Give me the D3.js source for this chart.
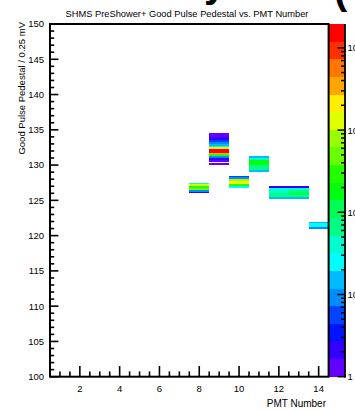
<!DOCTYPE html>
<html><head><meta charset="utf-8">
<script src="https://cdn.jsdelivr.net/npm/d3@7"></script>
<style>
html,body{margin:0;padding:0;background:#fff;overflow:hidden}
svg{display:block}
text{font-family:"Liberation Sans",Arial,Helvetica,sans-serif;fill:#000}
</style>
</head><body>
<svg id="c" width="355" height="412"></svg>
<script>
// ---------- data ----------
const title = "SHMS PreShower+ Good Pulse Pedestal vs. PMT Number";
const xTitle = "PMT Number";
const yTitle = "Good Pulse Pedestal / 0.25 mV";
const xDomain = [0.5, 14.5];
const yDomain = [100, 150];
const zDomain = [1, 19500];
const xTickValues = [2, 4, 6, 8, 10, 12, 14];
const yTickValues = [100, 105, 110, 115, 120, 125, 130, 135, 140, 145, 150];
const zTickValues = [1, 10, 100, 1000, 10000];
const zTickLabels = ["1", "10", "10^2", "10^3", "10^4"];
const binWidth = 0.25;
const nContours = 20;
const pmtNumbers = [8, 9, 10, 11, 12, 13, 14];
// [bin low edge (pedestal), entries]
const pmt8  = [[126.0,2],[126.25,10],[126.5,500],[126.75,250],[127.0,1100],[127.25,40]];
const pmt9  = [[130.0,1],[130.5,1],[130.75,2],[131.0,10],[131.25,300],[131.5,3500],[131.75,13000],
               [132.0,15000],[132.25,2000],[132.5,40],[132.75,15],[133.0,10],[133.25,5],
               [133.5,2],[133.75,2],[134.0,1],[134.25,1]];
const pmt10 = [[126.75,25],[127.0,300],[127.25,1200],[127.5,2000],[127.75,700],[128.0,10],[128.25,6]];
const pmt11 = [[129.0,15],[129.25,60],[129.5,80],[129.75,70],[130.0,220],[130.25,200],[130.5,160],[130.75,40],[131.0,15]];
const pmt12 = [[125.25,15],[125.5,55],[125.75,60],[126.0,45],[126.25,40],[126.5,45],[126.75,2]];
const pmt13 = [[125.25,15],[125.5,70],[125.75,100],[126.0,90],[126.25,60],[126.5,45],[126.75,2]];
const pmt14 = [[121.0,8],[121.25,20],[121.5,25],[121.75,15]];
const pmtBins = [pmt8, pmt9, pmt10, pmt11, pmt12, pmt13, pmt14];

// ---------- layout ----------
const svg = d3.select("#c");
const F = {l: 50, r: 328.6, t: 24, b: 376.7};
const P = {l: 329.2, r: 344.5};
const x = d3.scaleLinear().domain(xDomain).range([F.l, F.r]);
const y = d3.scaleLinear().domain(yDomain).range([F.b, F.t]);
const z = d3.scaleLog().domain(zDomain).range([F.b, F.t]);
const logMax = Math.log10(zDomain[1]);
const bandOf = c => Math.max(0, Math.min(nContours - 1, Math.floor(Math.log10(c) / (logMax / nContours))));
const bandColor = k => {
  const ci = Math.floor((k + 0.99) * 50 / nContours);
  return d3.hsl(280 - (ci + 1) * 5.6, 1, 0.5).formatHex();
};

// cells
const cells = [];
pmtNumbers.forEach((p, i) => pmtBins[i].forEach(([lo, c]) => { if (c > 0) cells.push({p, lo, c}); }));
svg.append("g").selectAll("rect").data(cells).join("rect")
  .attr("x", d => x(d.p - 0.5))
  .attr("width", d => x(d.p + 0.5) - x(d.p - 0.5))
  .attr("y", d => y(d.lo + binWidth))
  .attr("height", d => y(d.lo) - y(d.lo + binWidth))
  .attr("fill", d => bandColor(bandOf(d.c)))
  .attr("shape-rendering", "crispEdges");

// palette
const bands = d3.range(nContours);
svg.append("g").selectAll("rect").data(bands).join("rect")
  .attr("x", P.l).attr("width", P.r - P.l)
  .attr("y", k => z(Math.pow(10, (k + 1) * logMax / nContours)))
  .attr("height", k => z(Math.pow(10, k * logMax / nContours)) - z(Math.pow(10, (k + 1) * logMax / nContours)))
  .attr("fill", k => bandColor(k))
  .attr("shape-rendering", "crispEdges");

// palette axis
const zMinor = [];
[1, 10, 100, 1000, 10000].forEach(d => d3.range(2, 10).forEach(m => { if (d * m < zDomain[1]) zMinor.push(d * m); }));
const pal = svg.append("g");
pal.append("line").attr("x1", P.r + 0.5).attr("x2", P.r + 0.5).attr("y1", F.t).attr("y2", F.b + 1)
  .attr("stroke", "#000").attr("stroke-width", 1.8);
pal.selectAll("line.mn").data(zMinor).join("line").attr("class", "mn")
  .attr("x1", P.r).attr("x2", P.r - 3.5).attr("y1", d => z(d)).attr("y2", d => z(d))
  .attr("stroke", "#000").attr("stroke-width", 1.5);
pal.selectAll("line.mj").data(zTickValues).join("line").attr("class", "mj")
  .attr("x1", P.r).attr("x2", P.r - 7).attr("y1", d => z(d)).attr("y2", d => z(d))
  .attr("stroke", "#000").attr("stroke-width", 1.5);
const zt = pal.selectAll("text").data(zTickValues).join("text")
  .attr("x", 347.5).attr("y", d => z(d) + 3.5).attr("font-size", 9.5);
zt.each(function(d, i) {
  const parts = zTickLabels[i].split("^");
  const t = d3.select(this);
  t.append("tspan").text(parts[0]);
  if (parts[1]) t.append("tspan").attr("dy", -4).attr("font-size", 7).text(parts[1]);
});

// axes ticks (ROOT style, inside frame)
const ax = svg.append("g").attr("stroke", "#000").attr("stroke-width", 1.6);
const xMinor = d3.range(1, 14.5, 0.5).filter(v => !xTickValues.includes(v));
ax.selectAll("line.xm").data(xMinor).join("line").attr("class", "xm")
  .attr("x1", d => x(d)).attr("x2", d => x(d)).attr("y1", F.b).attr("y2", F.b - 5.3);
ax.selectAll("line.xM").data(xTickValues).join("line").attr("class", "xM")
  .attr("x1", d => x(d)).attr("x2", d => x(d)).attr("y1", F.b).attr("y2", F.b - 10.6);
const yMinor = d3.range(101, 150, 1).filter(v => !yTickValues.includes(v));
ax.selectAll("line.ym").data(yMinor).join("line").attr("class", "ym")
  .attr("x1", F.l).attr("x2", F.l + 4.2).attr("y1", d => y(d)).attr("y2", d => y(d));
ax.selectAll("line.yM").data(yTickValues).join("line").attr("class", "yM")
  .attr("x1", F.l).attr("x2", F.l + 8.4).attr("y1", d => y(d)).attr("y2", d => y(d));

// frame
svg.append("rect").attr("x", F.l).attr("y", F.t).attr("width", F.r - F.l).attr("height", F.b - F.t)
  .attr("fill", "none").attr("stroke", "#000").attr("stroke-width", 2);

// tick labels
svg.append("g").selectAll("text").data(xTickValues).join("text")
  .attr("x", d => x(d)).attr("y", 392).attr("text-anchor", "middle").attr("font-size", 9.5).text(d => d);
svg.append("g").selectAll("text").data(yTickValues).join("text")
  .attr("x", 44).attr("y", d => y(d) + 3.4).attr("text-anchor", "end").attr("font-size", 9.5).text(d => d);

// titles
svg.append("text").attr("x", 187).attr("y", 16.5).attr("text-anchor", "middle").attr("font-size", 9.3).text(title);
svg.append("text").attr("x", 326).attr("y", 407).attr("text-anchor", "end").attr("font-size", 10).text(xTitle);
svg.append("text").attr("transform", "translate(24.5,22) rotate(-90)").attr("text-anchor", "end")
  .attr("font-size", 9.5).text(yTitle);

// clipped canvas heading fragments at very top
svg.append("text").attr("x", 204).attr("y", -3.5).attr("font-size", 40).attr("font-weight", "bold").text("y");
svg.append("text").attr("x", 334).attr("y", 4).attr("font-size", 40).attr("font-weight", "bold").text("(");
</script>
</body></html>
